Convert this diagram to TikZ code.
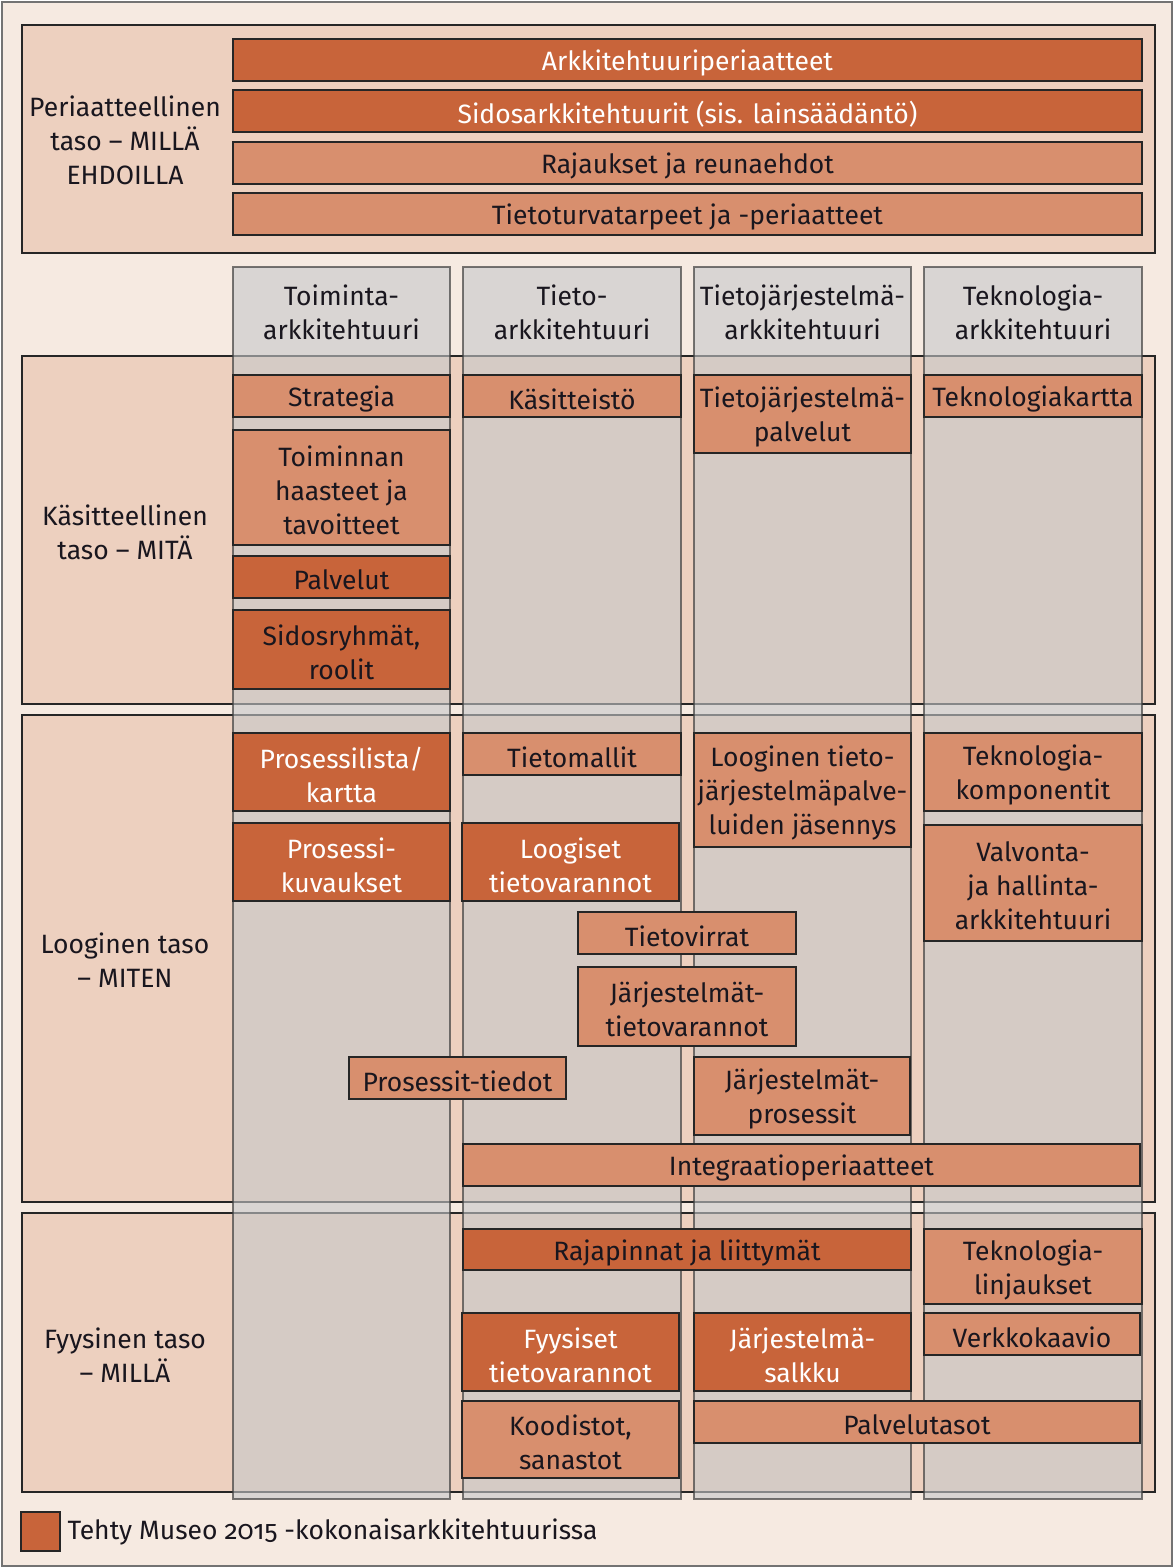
\documentclass[tikz,border=0pt]{standalone}
\usepackage{fontspec}
\setmainfont{Fira Sans}[Numbers=OldStyle]
\usetikzlibrary{positioning}

\definecolor{cream}{RGB}{246,234,225}
\definecolor{tanlayer}{RGB}{237,208,191}
\definecolor{colgrey}{RGB}{198,200,202}
\definecolor{darkorange}{RGB}{200,100,58}
\definecolor{lightorange}{RGB}{216,143,110}
\definecolor{inkdark}{RGB}{25,22,30}

\tikzset{
  layerbox/.style={draw=black!85, fill=tanlayer, line width=1.4pt},
  columnbox/.style={draw=black!75, fill=colgrey, fill opacity=0.6, draw opacity=0.7, line width=1.4pt},
  darkbox/.style={draw=black!85, fill=darkorange, line width=1.4pt},
  lightbox/.style={draw=black!85, fill=lightorange, line width=1.4pt},
  inktext/.style={text=inkdark, align=center},
  whitelabel/.style={midway, text=white, align=center, yshift=-3pt},
  inklabel/.style={midway, text=inkdark, align=center, yshift=-3pt},
}

\begin{document}
\begin{tikzpicture}[x=1pt,y=-1pt,font=\fontsize{26.5}{34}\selectfont]
    \useasboundingbox (0,0) rectangle (1175,1568);
    % outer frame
    \draw[fill=cream, draw=black!55, line width=1.2pt] (2,2) rectangle (1172,1566);

    % layers
    \draw[layerbox] (22,25) rectangle (1155,253);
    \draw[layerbox] (22,356) rectangle (1155,704);
    \draw[layerbox] (22,715) rectangle (1155,1202);
    \draw[layerbox] (22,1213) rectangle (1155,1492);
    \node[inktext] (periaate) at (125,140) {Periaatteellinen\\taso -- MILLÄ\\EHDOILLA};
    \node[inktext] (kasite) at (125,532) {Käsitteellinen\\taso -- MITÄ};
    \node[inktext] (looginen) at (125,960) {Looginen taso\\-- MITEN};
    \node[inktext] (fyysinen) at (125,1355) {Fyysinen taso\\-- MILLÄ};

    % principle bars
    \draw[darkbox] (233,39) rectangle (1142,81) node[whitelabel] (arkper) {Arkkitehtuuriperiaatteet};
    \draw[darkbox] (233,90) rectangle (1142,132) node[whitelabel] (sidos) {Sidosarkkitehtuurit (sis. lainsäädäntö)};
    \draw[lightbox] (233,142) rectangle (1142,184) node[inklabel] (rajaukset) {Rajaukset ja reunaehdot};
    \draw[lightbox] (233,193) rectangle (1142,235) node[inklabel] (tietoturva) {Tietoturvatarpeet ja -periaatteet};

    % columns
    \draw[columnbox] (233,267) rectangle (450,1499);
    \draw[columnbox] (463,267) rectangle (681,1499);
    \draw[columnbox] (694,267) rectangle (911,1499);
    \draw[columnbox] (924,267) rectangle (1142,1499);
    \node[inktext] (toimcol) at (341.5,312) {Toiminta-\\arkkitehtuuri};
    \node[inktext] (tietocol) at (572,312) {Tieto-\\arkkitehtuuri};
    \node[inktext] (tjcol) at (802.5,312) {Tietojärjestelmä-\\arkkitehtuuri};
    \node[inktext] (tekcol) at (1033,312) {Teknologia-\\arkkitehtuuri};

    % kasitteellinen taso
    \draw[lightbox] (233,375) rectangle (450,417) node[inklabel] (strategia) {Strategia};
    \draw[lightbox] (463,375) rectangle (681,417) node[inklabel] (kasitteisto) {Käsitteistö};
    \draw[lightbox] (694,375) rectangle (911,453) node[inklabel] (tjpalvelut) {Tietojärjestelmä-\\palvelut};
    \draw[lightbox] (924,375) rectangle (1142,417) node[inklabel] (tekkartta) {Teknologiakartta};
    \draw[lightbox] (233,430) rectangle (450,545) node[inklabel] (haasteet) {Toiminnan\\haasteet ja\\tavoitteet};
    \draw[darkbox] (233,556) rectangle (450,598) node[inklabel] (palvelut) {Palvelut};
    \draw[darkbox] (233,610) rectangle (450,689) node[inklabel] (sidosryhmat) {Sidosryhmät,\\roolit};

    % looginen taso
    \draw[darkbox] (233,733) rectangle (450,811) node[whitelabel] (proslista) {Prosessilista/\\kartta};
    \draw[darkbox] (233,823) rectangle (450,901) node[whitelabel] (proskuv) {Prosessi-\\kuvaukset};
    \draw[lightbox] (463,733) rectangle (681,775) node[inklabel] (tietomallit) {Tietomallit};
    \draw[darkbox] (462,823) rectangle (679,901) node[whitelabel] (loogtv) {Loogiset\\tietovarannot};
    \draw[lightbox] (694,733) rectangle (911,847) node[inklabel] (jasennys) {Looginen tieto-\\järjestelmäpalve-\\luiden jäsennys};
    \draw[lightbox] (924,733) rectangle (1142,811) node[inklabel] (tekkomp) {Teknologia-\\komponentit};
    \draw[lightbox] (924,825) rectangle (1142,941) node[inklabel] (valvonta) {Valvonta-\\ja hallinta-\\arkkitehtuuri};
    \draw[lightbox] (578,912) rectangle (796,954) node[inklabel] (tietovirrat) {Tietovirrat};
    \draw[lightbox] (578,967) rectangle (796,1046) node[inklabel] (jtv) {Järjestelmät-\\tietovarannot};
    \draw[lightbox] (349,1057) rectangle (566,1099) node[inklabel] (prostiedot) {Prosessit-tiedot};
    \draw[lightbox] (694,1057) rectangle (910,1135) node[inklabel] (jpros) {Järjestelmät-\\prosessit};
    \draw[lightbox] (463,1144) rectangle (1140,1186) node[inklabel] (integraatio) {Integraatioperiaatteet};

    % fyysinen taso
    \draw[darkbox] (463,1229) rectangle (911,1270) node[inklabel] (rajapinnat) {Rajapinnat ja liittymät};
    \draw[lightbox] (924,1229) rectangle (1142,1304) node[inklabel] (teklinj) {Teknologia-\\linjaukset};
    \draw[darkbox] (462,1313) rectangle (679,1391) node[whitelabel] (fyystv) {Fyysiset\\tietovarannot};
    \draw[darkbox] (694,1313) rectangle (911,1391) node[whitelabel] (salkku) {Järjestelmä-\\salkku};
    \draw[lightbox] (924,1313) rectangle (1140,1355) node[inklabel] (verkko) {Verkkokaavio};
    \draw[lightbox] (462,1401) rectangle (679,1478) node[inklabel] (koodistot) {Koodistot,\\sanastot};
    \draw[lightbox] (694,1401) rectangle (1140,1443) node[inklabel] (palvelutasot) {Palvelutasot};

    % legend
    \draw[darkbox] (21,1512) rectangle (60,1551) node[midway] (legendbox) {};
    \node[inktext, anchor=west] (legendtext) at (64,1532) {Tehty Museo 2015 -kokonaisarkkitehtuurissa};
\end{tikzpicture}
\end{document}
